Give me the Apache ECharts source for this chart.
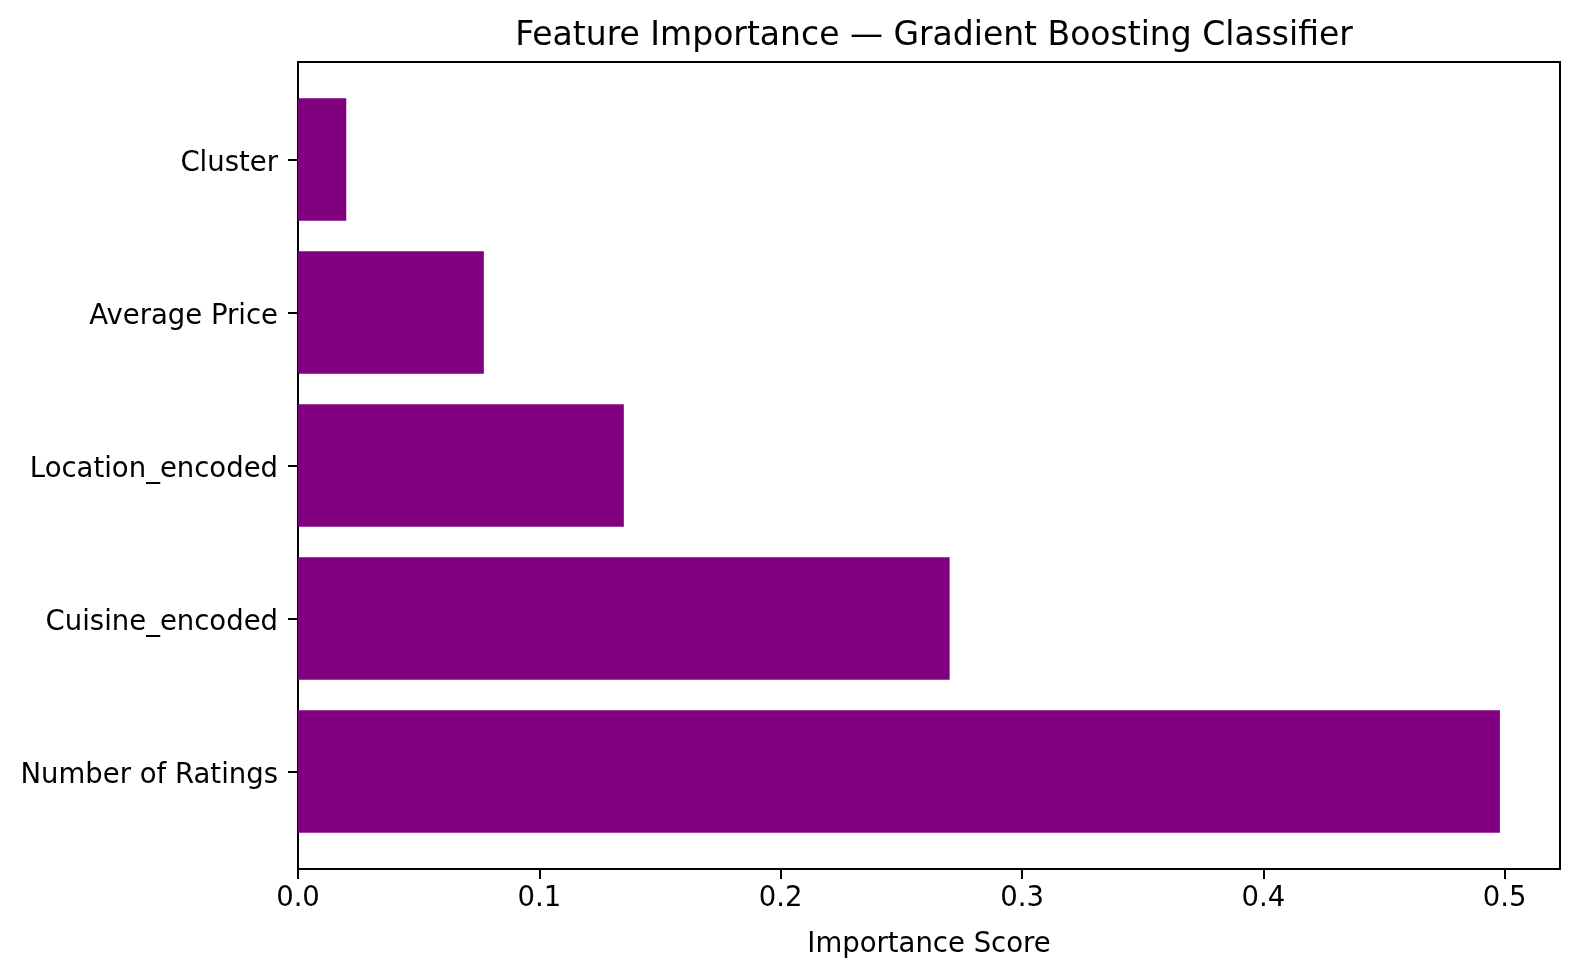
<!DOCTYPE html>
<html>
<head>
<meta charset="utf-8">
<script src="https://cdn.jsdelivr.net/npm/echarts@6/dist/echarts.min.js"></script>
<style>
  html, body { margin: 0; padding: 0; background: #fff; }
  #chart { width: 1579px; height: 977px; }
</style>
</head>
<body>
<div id="chart"></div>
<script>
// bottom to top, as in the picture
var features = ['Number of Ratings', 'Cuisine_encoded', 'Location_encoded', 'Average Price', 'Cluster'];
var importance = [0.498, 0.270, 0.135, 0.077, 0.020];
var xTicks = [0, 0.1, 0.2, 0.3, 0.4, 0.5];
var xMax = 0.5229;

var font = 'DejaVu Sans';
var mychart = echarts.init(document.getElementById('chart'));

var option = {
  backgroundColor: '#fff',
  animation: false,
  title: {
    text: 'Feature Importance \u2014 Gradient Boosting Classifier',
    left: 929,
    top: 15,
    textAlign: 'center',
    textStyle: { fontFamily: font, fontSize: 33, fontWeight: 'normal', color: '#000' }
  },
  grid: [
    // bars
    { left: 298, right: 19, top: 83, bottom: 129 },
    // frame
    { left: 298, right: 19, top: 62, bottom: 108, show: true, borderColor: '#000', borderWidth: 2, backgroundColor: 'transparent' }
  ],
  xAxis: [
    {
      gridIndex: 0, type: 'value', min: 0, max: xMax,
      axisLine: { show: false }, axisTick: { show: false },
      axisLabel: { show: false }, splitLine: { show: false }
    },
    {
      gridIndex: 1, type: 'value', min: 0, max: xMax,
      name: 'Importance Score',
      nameLocation: 'middle',
      nameGap: 62,
      nameTextStyle: { fontFamily: font, fontSize: 27.5, color: '#000' },
      axisLine: { show: true, lineStyle: { color: '#000', width: 2 } },
      axisTick: { show: true, inside: false, length: 10, lineStyle: { color: '#000', width: 2 }, customValues: xTicks },
      axisLabel: {
        fontFamily: font, fontSize: 27.5, color: '#000', margin: 16,
        customValues: xTicks,
        formatter: function (v) { return v.toFixed(1); }
      },
      splitLine: { show: false }
    }
  ],
  yAxis: [
    {
      gridIndex: 0, type: 'category', data: features,
      axisLine: { show: false },
      axisTick: { show: true, alignWithLabel: true, length: 10, lineStyle: { color: '#000', width: 2 } },
      axisLabel: {
        margin: 20,
        formatter: function (v) { return '{a|' + v + '}'; },
        rich: { a: { fontFamily: font, fontSize: 27.5, color: '#000', padding: [8, 0, 0, 0] } }
      },
      splitLine: { show: false }
    },
    {
      gridIndex: 1, type: 'value', min: 0, max: 1,
      axisLine: { show: false }, axisTick: { show: false },
      axisLabel: { show: false }, splitLine: { show: false }
    }
  ],
  series: [
    {
      type: 'bar',
      xAxisIndex: 0,
      yAxisIndex: 0,
      data: importance,
      barCategoryGap: '20%',
      itemStyle: { color: '#800080' }
    }
  ]
};
mychart.setOption(option);
</script>
</body>
</html>
